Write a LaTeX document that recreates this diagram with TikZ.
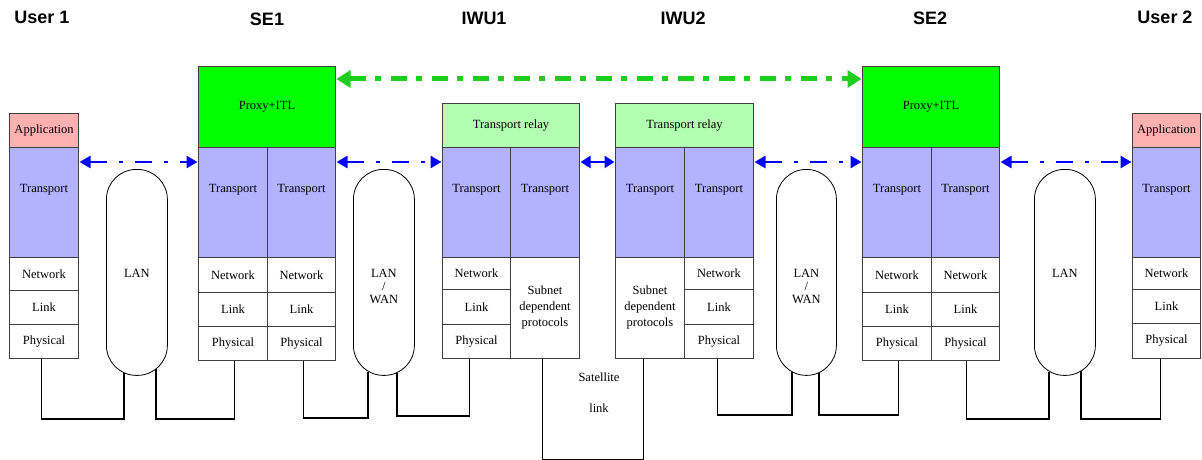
\documentclass[tikz,border=0pt]{standalone}
\usepackage{fontspec}
\setmainfont{Liberation Serif}
\newfontfamily\hdfont{Liberation Sans}
\usetikzlibrary{calc,arrows.meta}
\definecolor{apppink}{RGB}{255,176,176}
\definecolor{trblue}{RGB}{178,178,255}
\definecolor{proxygreen}{RGB}{0,255,0}
\definecolor{relaygreen}{RGB}{178,255,178}
\definecolor{arrgreen}{RGB}{30,205,30}
\definecolor{edgegray}{RGB}{64,64,64}
\begin{document}
\begin{tikzpicture}[x=1pt,y=-1pt,
  txt/.style={font=\fontsize{12.5}{16}\selectfont, align=center},
  cell/.style 2 args={draw=edgegray, line width=1pt, anchor=north west, inner sep=0pt,
    minimum width=#1, minimum height=#2, txt},
  tlab/.style={anchor=center, yshift=-43pt, txt},
  capsule/.style 2 args={draw=black, line width=0.8pt, fill=white, anchor=north west, inner sep=0pt,
    minimum width=#1, minimum height=#2, rounded corners=30pt},
  hdr/.style={font=\hdfont\bfseries\fontsize{18}{20}\selectfont},
  conn/.style={draw=black, line width=1.9pt},
  barr/.style={draw=blue, line width=2.6pt, dash pattern=on 17pt off 12pt on 4pt off 12pt,
    {Triangle[length=11pt,width=12pt]}-{Triangle[length=11pt,width=12pt]}},
  bsol/.style={draw=blue, line width=2.6pt,
    {Triangle[length=10pt,width=12pt]}-{Triangle[length=10pt,width=12pt]}},
  garr/.style={draw=arrgreen, line width=5pt, dash pattern=on 16pt off 9pt on 6pt off 10pt,
    {Triangle[length=14pt,width=17pt]}-{Triangle[length=14pt,width=17pt]}}
]
\useasboundingbox (0,0) rectangle (1202,460);

% headers
\node[hdr] (hu1) at (42,17) {User 1};
\node[hdr] (hse1) at (267,19) {SE1};
\node[hdr] (hiwu1) at (484,18) {IWU1};
\node[hdr] (hiwu2) at (683,18) {IWU2};
\node[hdr] (hse2) at (930,18) {SE2};
\node[hdr] (hu2) at (1165,17) {User 2};

% User 1
\node[cell={69}{34}, fill=apppink] (u1app) at (9,113) {Application};
\node[cell={69}{110}, fill=trblue, label={[tlab]north:Transport}] (u1tr) at (9,147) {};
\node[cell={69}{33}] (u1net) at (9,257) {Network};
\node[cell={69}{34}] (u1link) at (9,290) {Link};
\node[cell={69}{34}] (u1phys) at (9,324) {Physical};

% SE1
\node[cell={137}{81}, fill=proxygreen] (se1px) at (198,66) {Proxy+ITL};
\node[cell={69}{110}, fill=trblue, label={[tlab]north:Transport}] (se1ltr) at (198,147) {};
\node[cell={68}{110}, fill=trblue, label={[tlab]north:Transport}] (se1rtr) at (267,147) {};
\node[cell={69}{35}] (se1lnet) at (198,257) {Network};
\node[cell={68}{35}] (se1rnet) at (267,257) {Network};
\node[cell={69}{34}] (se1llink) at (198,292) {Link};
\node[cell={68}{34}] (se1rlink) at (267,292) {Link};
\node[cell={69}{34}] (se1lphys) at (198,326) {Physical};
\node[cell={68}{34}] (se1rphys) at (267,326) {Physical};

% IWU1
\node[cell={137}{44}, fill=relaygreen] (iwu1rl) at (442,103) {Transport relay};
\node[cell={68}{110}, fill=trblue, label={[tlab]north:Transport}] (iwu1ltr) at (442,147) {};
\node[cell={69}{110}, fill=trblue, label={[tlab]north:Transport}] (iwu1rtr) at (510,147) {};
\node[cell={68}{32}] (iwu1net) at (442,257) {Network};
\node[cell={68}{35}] (iwu1link) at (442,289) {Link};
\node[cell={68}{34}] (iwu1lphys) at (442,324) {Physical};
\node[cell={69}{101}, label={[anchor=center,yshift=-50pt,txt]north:Subnet\\dependent\\protocols}] (iwu1sub) at (510,257) {};

% IWU2
\node[cell={138}{44}, fill=relaygreen] (iwu2rl) at (615,103) {Transport relay};
\node[cell={69}{110}, fill=trblue, label={[tlab]north:Transport}] (iwu2ltr) at (615,147) {};
\node[cell={69}{110}, fill=trblue, label={[tlab]north:Transport}] (iwu2rtr) at (684,147) {};
\node[cell={69}{101}, label={[anchor=center,yshift=-50pt,txt]north:Subnet\\dependent\\protocols}] (iwu2sub) at (615,257) {};
\node[cell={69}{32}] (iwu2net) at (684,257) {Network};
\node[cell={69}{35}] (iwu2link) at (684,289) {Link};
\node[cell={69}{34}] (iwu2rphys) at (684,324) {Physical};

% SE2
\node[cell={137}{81}, fill=proxygreen] (se2px) at (862,66) {Proxy+ITL};
\node[cell={69}{110}, fill=trblue, label={[tlab]north:Transport}] (se2ltr) at (862,147) {};
\node[cell={68}{110}, fill=trblue, label={[tlab]north:Transport}] (se2rtr) at (931,147) {};
\node[cell={69}{35}] (se2lnet) at (862,257) {Network};
\node[cell={68}{35}] (se2rnet) at (931,257) {Network};
\node[cell={69}{34}] (se2llink) at (862,292) {Link};
\node[cell={68}{34}] (se2rlink) at (931,292) {Link};
\node[cell={69}{34}] (se2lphys) at (862,326) {Physical};
\node[cell={68}{34}] (se2rphys) at (931,326) {Physical};

% User 2
\node[cell={68}{34}, fill=apppink] (u2app) at (1132,113) {Application};
\node[cell={68}{110}, fill=trblue, label={[tlab]north:Transport}] (u2tr) at (1132,147) {};
\node[cell={68}{32}] (u2net) at (1132,257) {Network};
\node[cell={68}{34}] (u2link) at (1132,289) {Link};
\node[cell={68}{35}] (u2phys) at (1132,323) {Physical};

% networks (capsules)
\node[capsule={61}{206}, label={[anchor=center,yshift=-104pt,txt]north:LAN}] (lan1) at (106,169) {};
\node[capsule={61}{206}, label={[anchor=center,yshift=-117pt,txt,font=\fontsize{12.5}{13}\selectfont]north:LAN\\/\\WAN}] (lanwan1) at (353,169) {};
\node[capsule={60}{206}, label={[anchor=center,yshift=-117pt,txt,font=\fontsize{12.5}{13}\selectfont]north:LAN\\/\\WAN}] (lanwan2) at (776,169) {};
\node[capsule={61}{206}, label={[anchor=center,yshift=-104pt,txt]north:LAN}] (lan2) at (1034,169) {};

% satellite text
\node[txt] (sat1) at (599,377) {Satellite};
\node[txt] (sat2) at (599,408) {link};

% physical connections
\draw[conn] ($(u1phys.south)+(-2.5,0)$) -- ++(0,60) -| ($(lan1.south)+(-12.5,-2.7)$);
\draw[conn] ($(se1lphys.south)+(1.5,0)$) -- ++(0,58) -| ($(lan1.south)+(19.5,-7)$);
\draw[conn] ($(se1rphys.south)+(2,0)$) -- ++(0,57) -| ($(lanwan1.south)+(-15.5,-4.2)$);
\draw[conn] ($(iwu1lphys.south)+(-7,0)$) -- ++(0,57) -| ($(lanwan1.south)+(13.5,-3.2)$);
\draw[conn] ($(iwu1sub.south)+(-2.5,0)$) -- ++(0,101) -| ($(iwu2sub.south)+(-6.5,0)$);
\draw[conn] ($(iwu2rphys.south)+(-1.5,0)$) -- ++(0,56) -| ($(lanwan2.south)+(-14.5,-3.7)$);
\draw[conn] ($(se2lphys.south)+(1.5,0)$) -- ++(0,54) -| ($(lanwan2.south)+(12.5,-2.7)$);
\draw[conn] ($(se2rphys.south)+(1,0)$) -- ++(0,58) -| ($(lan2.south)+(-15.5,-4.2)$);
\draw[conn] ($(u2phys.south)+(-6,0)$) -- ++(0,60) -| ($(lan2.south)+(16.5,-4.9)$);

% peer arrows
\draw[garr] ($(se1px.north east)+(0.5,13)$) -- ($(se2px.north west)+(-0.5,13)$);
\draw[barr] ($(u1tr.north east)+(0.5,15)$) -- ($(se1ltr.north west)+(-0.5,15)$);
\draw[barr] ($(se1rtr.north east)+(0.5,15)$) -- ($(iwu1ltr.north west)+(-0.5,15)$);
\draw[bsol] ($(iwu1rtr.north east)+(0.5,15)$) -- ($(iwu2ltr.north west)+(-0.5,15)$);
\draw[barr] ($(iwu2rtr.north east)+(0.5,15)$) -- ($(se2ltr.north west)+(-0.5,15)$);
\draw[barr] ($(se2rtr.north east)+(0.5,15)$) -- ($(u2tr.north west)+(-0.5,15)$);
\end{tikzpicture}
\end{document}
